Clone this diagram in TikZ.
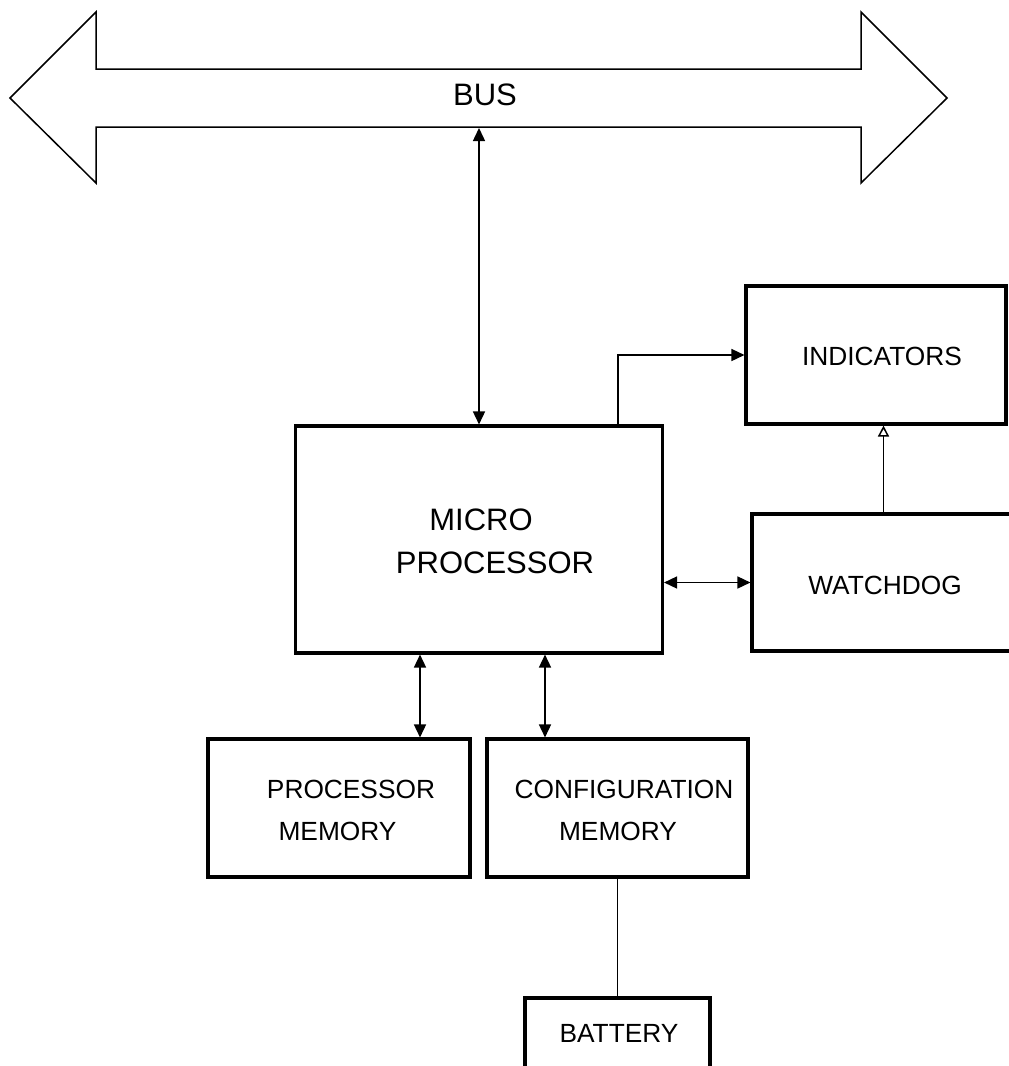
\documentclass[tikz,border=0pt]{standalone}
\usepackage{fontspec}
\setmainfont{Liberation Sans}
\usetikzlibrary{arrows.meta}
\tikzset{
  blk/.style={draw, line width=3.1pt, rectangle, inner sep=0pt},
  lbl/.style={anchor=base, inner sep=0pt, font=\fontsize{26.3}{30}\selectfont},
  biglbl/.style={anchor=base, inner sep=0pt, font=\fontsize{31}{36}\selectfont},
  conn/.style={line width=1.5pt},
  tipf/.style={line width=1.5pt, {Triangle[length=13pt,width=12pt]}-{Triangle[length=13pt,width=12pt]}},
  tipone/.style={line width=1.5pt, -{Triangle[length=13pt,width=12pt]}},
  tipopen/.style={line width=1.5pt, -{Triangle[open,length=11pt,width=11pt,fill=white]}}
}
\begin{document}
\begin{tikzpicture}[x=1pt,y=-1pt]
\useasboundingbox (0,0) rectangle (1009,1066);
\clip (0,0) rectangle (1009,1066);
\fill[white] (0,0) rectangle (1009,1066);
% bus
\draw[line width=1.5pt, line join=miter] (10,98) -- (96,12) -- (96,69) -- (861,69) -- (861,12) -- (947,98) -- (861,183) -- (861,127) -- (96,127) -- (96,183) -- cycle;
\node[biglbl] (bustxt) at (485,105) {BUS};
\coordinate (busb) at (479,128);
% boxes
\node[blk, minimum width=367pt, minimum height=227pt] (micro) at (479,539.5) {};
\node[blk, minimum width=260pt, minimum height=138pt] (ind) at (876,355) {};
\node[blk, minimum width=263pt, minimum height=137pt] (wd) at (883.5,582.5) {};
\node[blk, minimum width=262pt, minimum height=138pt] (pm) at (339,808) {};
\node[blk, minimum width=261pt, minimum height=138pt] (cm) at (617.5,808) {};
\node[blk, minimum width=185pt, minimum height=142pt] (bat) at (617.5,1069) {};
% labels
\node[biglbl] (t1) at (481,530) {MICRO};
\node[biglbl] (t2) at (495,573) {PROCESSOR};
\node[lbl] (t3) at (882,365) {INDICATORS};
\node[lbl] (t4) at (885,594) {WATCHDOG};
\node[lbl] (t5) at (351,798) {PROCESSOR};
\node[lbl] (t6) at (337.5,840) {MEMORY};
\node[lbl] (t7) at (624,798) {CONFIGURATION};
\node[lbl] (t8) at (618,840) {MEMORY};
\node[lbl] (t9) at (619,1042) {BATTERY};
% connectors
\coordinate (cx1) at (618,0);
\coordinate (cx2) at (420,0);
\coordinate (cx3) at (545,0);
\draw[tipf] (busb) -- (micro.north);
\draw[tipone] (micro.north -| cx1) |- (ind.west);
\draw[tipf] (micro.east |- wd.west) -- (wd.west);
\draw[tipopen] (wd.north) -- (ind.south -| wd.north);
\draw[tipf] (micro.south -| cx2) -- (pm.north -| cx2);
\draw[tipf] (micro.south -| cx3) -- (cm.north -| cx3);
\draw[conn] (cm.south) -- (bat.north);
\end{tikzpicture}
\end{document}
